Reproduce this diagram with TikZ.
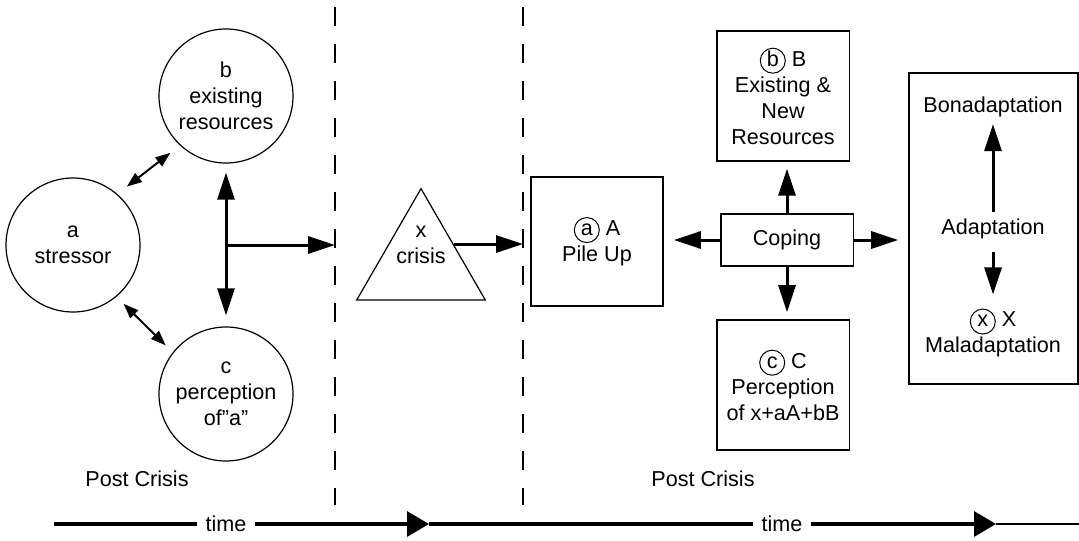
\documentclass[tikz,border=0pt]{standalone}
\usepackage{fontspec}
\setmainfont{Liberation Sans}
\usetikzlibrary{arrows.meta,shapes.geometric,calc}

% small circled letter inside a label
\newcommand{\circlab}[1]{\tikz[baseline=(cl.base)]\node[draw,circle,line width=0.5pt,inner sep=0pt,minimum size=12.5pt,text height=5.4pt,text depth=0pt](cl){#1};}

\tikzset{
  every node/.style={font=\fontsize{10.8}{13}\selectfont, align=center},
  ring/.style={draw, circle, line width=0.6pt, minimum size=67pt, inner sep=0pt},
  card/.style={draw, rectangle, line width=0.8pt, inner sep=0pt},
  tri/.style={draw, regular polygon, regular polygon sides=3, line width=0.6pt, minimum size=74.25pt, inner sep=0pt},
  bigarrow/.style={line width=1.5pt, -{Triangle[length=13.5pt,width=8.5pt]}},
  bothbig/.style={line width=1.5pt, {Triangle[length=13.5pt,width=8.5pt]}-{Triangle[length=13.5pt,width=8.5pt]}},
  bothsmall/.style={line width=1pt, {Triangle[length=7.5pt,width=5.5pt]}-{Triangle[length=7.5pt,width=5.5pt]}},
  timearrow/.style={line width=1.6pt, -{Triangle[length=11pt,width=12.5pt]}},
  divider/.style={line width=0.6pt, dash pattern=on 9.5pt off 9pt}
}

\begin{document}
\begin{tikzpicture}[x=0.5pt,y=-0.5pt]
  \useasboundingbox (0,0) rectangle (1079,540);

  % before the crisis
  \node[ring] (stressor) at (73,245) {a\\stressor};
  \node[ring] (resources) at (226,96) {b\\existing\\resources};
  \node[ring] (perception) at (226,394) {c\\perception\\of''a''};
  \draw[bothsmall, shorten <=6pt, shorten >=6pt] (stressor.49) -- (resources.227);
  \draw[bothsmall, shorten <=5pt, shorten >=5pt] (stressor.310) -- (perception.142);
  \draw[bothbig, shorten <=4.5pt, shorten >=5.5pt] (resources) -- (perception);

  % dividers
  \coordinate (d1top) at (335,7);
  \coordinate (d1bot) at (335,505);
  \coordinate (d2top) at (523,7);
  \coordinate (d2bot) at (523,505);
  \draw[divider] (d1top) -- (d1bot);
  \draw[divider] (d2top) -- (d2bot);

  \coordinate (junction) at (226,245);
  \draw[bigarrow] (junction) -- (junction -| d1top);

  % crisis
  \node[tri] (crisis) at (421,262.9) {};
  \node (crisislab) at (421,245) {x\\crisis};
  \coordinate (crisisout) at ($(crisis.corner 1)!0.5!(crisis.corner 3)$);
  \draw[bigarrow] (crisisout) -- (crisisout -| d2top);

  % after the crisis
  \node[card, minimum width=66pt, minimum height=64.5pt] (pileup) at (597,241.5) {\circlab{a} A\\Pile Up};
  \node[card, minimum width=66.3pt, minimum height=25.8pt] (coping) at (787,240) {Coping};
  \node[card, minimum width=66.3pt, minimum height=64.8pt] (newres) at (783,96) {\circlab{b} B\\Existing \&\\New\\Resources};
  \node[card, minimum width=66.3pt, minimum height=65pt] (perceive) at (783,385) {\circlab{c} C\\Perception\\of x+aA+bB};
  \node[card, minimum width=84.5pt, minimum height=155.5pt] (outcome) at (993.5,228.5) {};

  \draw[bigarrow, shorten >=3.5pt] (coping.north) -- (coping.north |- newres.south);
  \draw[bigarrow, shorten >=3.5pt] (coping.south) -- (coping.south |- perceive.north);
  \draw[bigarrow, shorten >=5pt] (coping.west) -- (coping.west -| pileup.east);
  \draw[bigarrow, shorten >=5pt] (coping.east) -- (coping.east -| outcome.west);

  \node (bona) at (993,107) {Bonadaptation};
  \node (adapt) at (993,229) {Adaptation};
  \node (mal) at (993,333) {\circlab{x} X\\Maladaptation};
  \draw[bigarrow] (adapt.north) -- (bona.south);
  \draw[bigarrow, shorten <=3pt, shorten >=3.5pt] (adapt.south) -- (mal.north);

  % time line
  \node (postA) at (137,479) {Post Crisis};
  \node (postB) at (703,479) {Post Crisis};
  \coordinate (t0) at (54,524);
  \coordinate (t1) at (429,524);
  \coordinate (t2) at (996,524);
  \coordinate (t3) at (1079,524);
  \draw[timearrow] (t0) -- (t1);
  \draw[timearrow] (t1) -- (t2);
  \draw[line width=0.6pt] (t2) -- (t3);
  \node[fill=white, inner xsep=4.5pt, inner ysep=1pt] (time1) at (226,524) {time};
  \node[fill=white, inner xsep=4.5pt, inner ysep=1pt] (time2) at (782,524) {time};
\end{tikzpicture}
\end{document}
